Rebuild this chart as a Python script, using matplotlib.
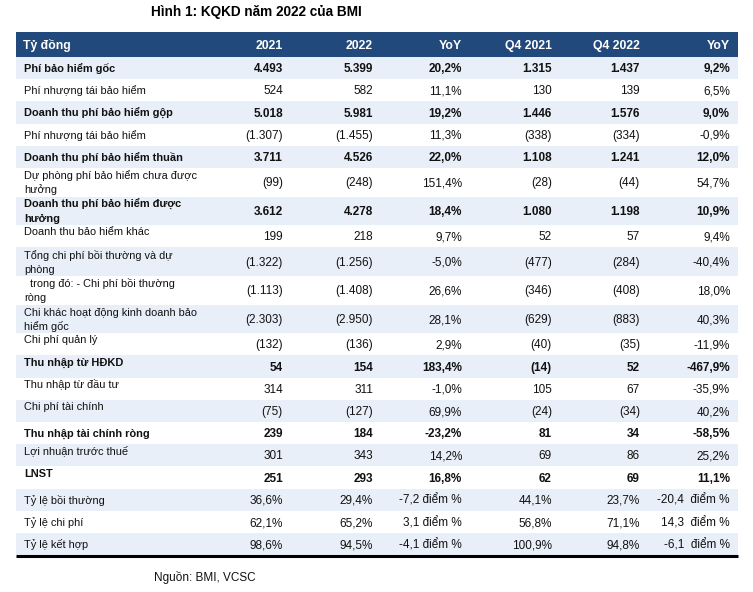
import matplotlib
matplotlib.use("Agg")
import matplotlib.pyplot as plt
from matplotlib.patches import Rectangle

plt.rcParams['font.family'] = ['Liberation Sans', 'DejaVu Sans']

# Dữ liệu bảng (tỷ đồng)
columns = ["Tỷ đồng", "2021", "2022", "YoY", "Q4 2021", "Q4 2022", "YoY"]
labels = [
    "Phí bảo hiểm gốc",
    "Phí nhượng tái bảo hiểm",
    "Doanh thu phí bảo hiểm gộp",
    "Phí nhượng tái bảo hiểm",
    "Doanh thu phí bảo hiểm thuần",
    "Dự phòng phí bảo hiểm chưa được\nhưởng",
    "Doanh thu phí bảo hiểm được\nhưởng",
    "Doanh thu bảo hiểm khác",
    "Tổng chi phí bồi thường và dự\nphòng",
    "  trong đó: - Chi phí bồi thường\nròng",
    "Chi khác hoạt động kinh doanh bảo\nhiểm gốc",
    "Chi phí quản lý",
    "Thu nhập từ HĐKD",
    "Thu nhập từ đầu tư",
    "Chi phí tài chính",
    "Thu nhập tài chính ròng",
    "Lợi nhuận trước thuế",
    "LNST",
    "Tỷ lệ bồi thường",
    "Tỷ lệ chi phí",
    "Tỷ lệ kết hợp",
]
v2021 = ["4.493", "524", "5.018", "(1.307)", "3.711", "(99)", "3.612", "199",
         "(1.322)", "(1.113)", "(2.303)", "(132)", "54", "314", "(75)", "239",
         "301", "251", "36,6%", "62,1%", "98,6%"]
v2022 = ["5.399", "582", "5.981", "(1.455)", "4.526", "(248)", "4.278", "218",
         "(1.256)", "(1.408)", "(2.950)", "(136)", "154", "311", "(127)", "184",
         "343", "293", "29,4%", "65,2%", "94,5%"]
yoy = ["20,2%", "11,1%", "19,2%", "11,3%", "22,0%", "151,4%", "18,4%", "9,7%",
       "-5,0%", "26,6%", "28,1%", "2,9%", "183,4%", "-1,0%", "69,9%", "-23,2%",
       "14,2%", "16,8%", "-7,2 điểm %", "3,1 điểm %", "-4,1 điểm %"]
q4_2021 = ["1.315", "130", "1.446", "(338)", "1.108", "(28)", "1.080", "52",
           "(477)", "(346)", "(629)", "(40)", "(14)", "105", "(24)", "81",
           "69", "62", "44,1%", "56,8%", "100,9%"]
q4_2022 = ["1.437", "139", "1.576", "(334)", "1.241", "(44)", "1.198", "57",
           "(284)", "(408)", "(883)", "(35)", "52", "67", "(34)", "34",
           "86", "69", "23,7%", "71,1%", "94,8%"]
q4_yoy = ["9,2%", "6,5%", "9,0%", "-0,9%", "12,0%", "54,7%", "10,9%", "9,4%",
          "-40,4%", "18,0%", "40,3%", "-11,9%", "-467,9%", "-35,9%", "40,2%", "-58,5%",
          "25,2%", "11,1%", "-20,4  điểm %", "14,3  điểm %", "-6,1  điểm %"]

bold_rows = {"Phí bảo hiểm gốc", "Doanh thu phí bảo hiểm gộp", "Doanh thu phí bảo hiểm thuần",
             "Doanh thu phí bảo hiểm được\nhưởng", "Thu nhập từ HĐKD",
             "Thu nhập tài chính ròng", "LNST"}
top_label_rows = {"Doanh thu bảo hiểm khác", "Chi phí quản lý", "Thu nhập từ HĐKD",
                  "Thu nhập từ đầu tư", "Chi phí tài chính", "Lợi nhuận trước thuế", "LNST"}

# Bố cục (pixel)
W, H = 753, 592
fig = plt.figure(figsize=(W / 100, H / 100), dpi=100)
ax = fig.add_axes([0, 0, 1, 1])
ax.set_xlim(0, W)
ax.set_ylim(H, 0)
ax.axis("off")

header_col = "#22497B"
stripe_col = "#E9EFF8"
txt_col = "#111111"
left, right = 16, 738
col_right = [283, 373, 462, 552, 640, 730]
fs_lab = 7.9
fs_num = 8.5
base = 4.1  # từ tâm hàng xuống đường chân chữ

ax.text(256, 12, "Hình 1: KQKD năm 2022 của BMI", ha="center", va="center",
        fontsize=9.8, fontweight="bold", color="#000000")

# Tiêu đề cột
y0, hh = 32, 25
ax.add_patch(Rectangle((left, y0), right - left, hh, color=header_col, lw=0))
ax.text(23, y0 + hh / 2 + 4.5, columns[0], ha="left", va="baseline", color="white",
        fontsize=8.8, fontweight="bold")
for x, c in zip(col_right, columns[1:]):
    ax.text(x, y0 + hh / 2 + 4.5, c, ha="right", va="baseline", color="white",
            fontsize=8.8, fontweight="bold")

y = y0 + hh
for i, lab in enumerate(labels):
    lines = lab.split("\n")
    rh = 28.6 if len(lines) > 1 else 22.2
    if i % 2 == 0:
        ax.add_patch(Rectangle((left, y), right - left, rh, color=stripe_col, lw=0))
    fw = "bold" if lab in bold_rows else "normal"
    yc = y + rh / 2
    if len(lines) > 1:
        ys = [yc - 7, yc + 7]
    elif lab in top_label_rows:
        ys = [yc - 5]
    else:
        ys = [yc]
    for ln, ly in zip(lines, ys):
        ax.text(24, ly + base, ln, ha="left", va="baseline", fontsize=fs_lab,
                fontweight=fw, color=txt_col)
    vals = [v2021[i], v2022[i], yoy[i], q4_2021[i], q4_2022[i], q4_yoy[i]]
    for x, v in zip(col_right, vals):
        ax.text(x, yc + base, v, ha="right", va="baseline", fontsize=fs_num,
                fontweight=fw, color=txt_col)
    y += rh

ax.plot([left, right], [y + 1, y + 1], color="black", lw=2.2, solid_capstyle="butt")

ax.text(205, 577, "Nguồn: BMI, VCSC", ha="center", va="center", fontsize=8.5, color=txt_col)

fig.savefig("out.png", dpi=100)
